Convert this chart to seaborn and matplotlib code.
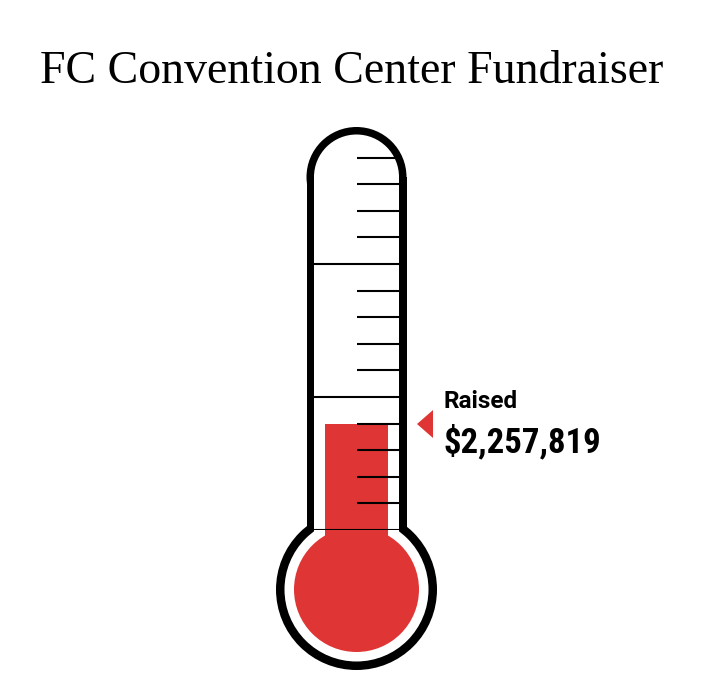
import matplotlib
matplotlib.use("Agg")
import matplotlib.pyplot as plt
from matplotlib.patches import Rectangle, Circle, Polygon
import seaborn as sns
import pandas as pd

# ---- data ----
title = "FC Convention Center Fundraiser"
label = "Raised"
raised = [2257819]
categories = ["Raised"]
goal = 8500000
n_ticks = 15            # minor divisions over the scale
major_every = 5

RED = "#E03535"

sns.set_theme(style="white")
plt.rcParams["font.family"] = ["Liberation Sans", "DejaVu Sans"]

W, H = 703, 680
fig = plt.figure(figsize=(W / 100, H / 100), dpi=100)

# full-figure decoration axes in pixel coordinates
axf = fig.add_axes([0, 0, 1, 1])
axf.set_xlim(0, W)
axf.set_ylim(H, 0)
axf.axis("off")

cx = 356.5
tube_top_c = 177      # center of dome
tube_bot = 530        # zero of scale
scale_top = 131       # goal position
bulb_cy = 589.5
outer_hw, inner_hw = 50, 42.5

# black outline
axf.add_patch(Rectangle((cx - outer_hw, tube_top_c), 2 * outer_hw, tube_bot - tube_top_c, color="black", lw=0))
axf.add_patch(Circle((cx, tube_top_c), outer_hw, color="black", lw=0))
axf.add_patch(Circle((cx, bulb_cy), 80.5, color="black", lw=0))
# white interior
axf.add_patch(Rectangle((cx - inner_hw, tube_top_c), 2 * inner_hw, 545 - tube_top_c, color="white", lw=0))
axf.add_patch(Circle((cx, tube_top_c), inner_hw, color="white", lw=0))
axf.add_patch(Circle((cx, bulb_cy), 72, color="white", lw=0))
# red bulb
axf.add_patch(Circle((cx, bulb_cy), 62.5, color=RED, lw=0))
axf.add_patch(Rectangle((325, 528), 63, 40, color=RED, lw=0))

# title
axf.text(352, 83.3, title, ha="center", va="baseline", fontsize=33,
         family=["Liberation Serif", "DejaVu Serif"], color="black")

# tube axes: dollar scale
axt = fig.add_axes([(cx - inner_hw) / W, (H - tube_bot) / H,
                    2 * inner_hw / W, (tube_bot - scale_top) / H])
df = pd.DataFrame({"cat": categories, "value": raised})
sns.barplot(data=df, x="cat", y="value", color=RED, saturation=1,
            width=63 / 85, ax=axt, linewidth=0)
axt.set_xlim(-0.5, 0.5)
axt.set_ylim(0, goal)
axt.axis("off")

step = goal / n_ticks
ticks = [k * step for k in range(n_ticks)]
long_t = [t for k, t in enumerate(ticks) if k % major_every == 0]
short_t = [t for k, t in enumerate(ticks) if k % major_every != 0]
axt.hlines(short_t, 0.0, 0.5, color="black", lw=1.5, zorder=5)
axt.hlines(long_t, -0.5, 0.5, color="black", lw=1.5, zorder=5)

# pointer
v = raised[0]
px = goal / (tube_bot - scale_top)
axt.add_patch(Polygon([(0.712, v), (0.9, v + 14 * px), (0.9, v - 14 * px)],
                      closed=True, color=RED, lw=0, clip_on=False))

axt.annotate(label, xy=(1.018, v), xycoords="data", xytext=(0, 11.7),
             textcoords="offset points", ha="left", va="baseline",
             fontsize=17.5, fontweight="bold",
             family=["Roboto", "Liberation Sans", "DejaVu Sans"], color="black",
             annotation_clip=False)
axt.annotate(f"${v:,.0f}", xy=(1.018, v), xycoords="data", xytext=(0, -20.7),
             textcoords="offset points", ha="left", va="baseline",
             fontsize=25, fontweight="bold",
             family=["Roboto Condensed", "Liberation Sans", "DejaVu Sans"], color="black",
             annotation_clip=False)

fig.savefig("out.png", dpi=100)
